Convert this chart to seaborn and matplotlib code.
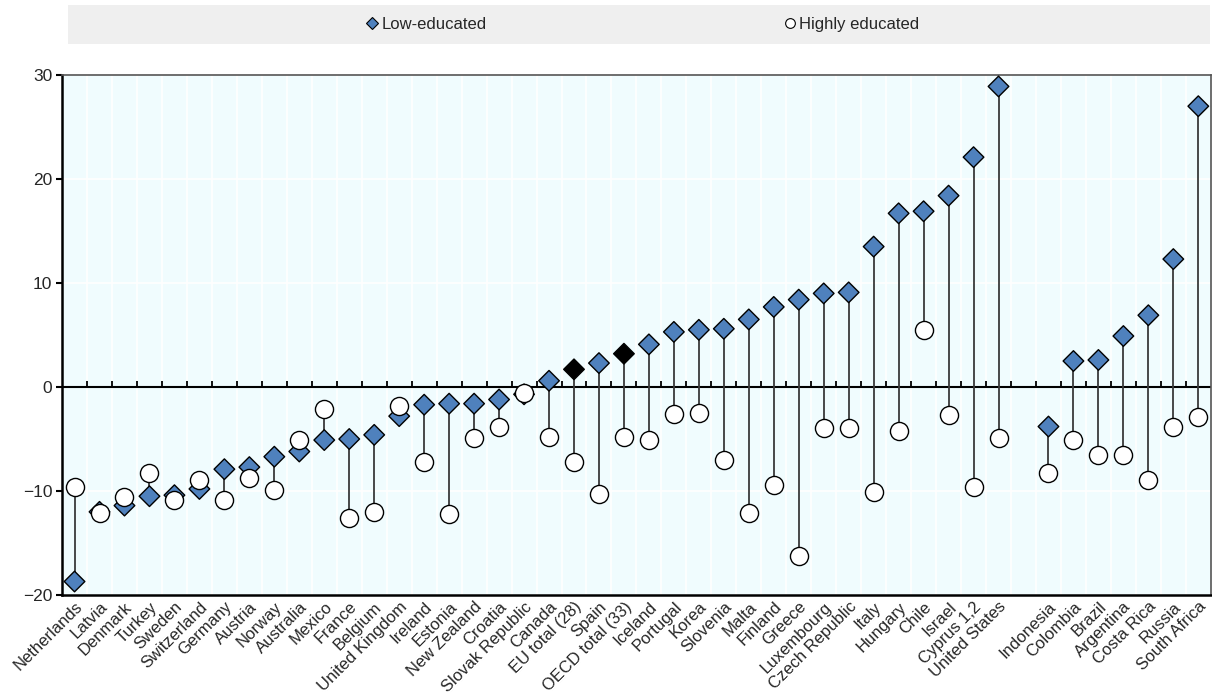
import numpy as np
import pandas as pd
import seaborn as sns
import matplotlib.pyplot as plt
from matplotlib.patches import Rectangle
from matplotlib.lines import Line2D

countries = ["Netherlands", "Latvia", "Denmark", "Turkey", "Sweden", "Switzerland", "Germany",
             "Austria", "Norway", "Australia", "Mexico", "France", "Belgium", "United Kingdom",
             "Ireland", "Estonia", "New Zealand", "Croatia", "Slovak Republic", "Canada",
             "EU total (28)", "Spain", "OECD total (33)", "Iceland", "Portugal", "Korea",
             "Slovenia", "Malta", "Finland", "Greece", "Luxembourg", "Czech Republic", "Italy",
             "Hungary", "Chile", "Israel", "Cyprus 1,2", "United States", "",
             "Indonesia", "Colombia", "Brazil", "Argentina", "Costa Rica", "Russia", "South Africa"]
low_educated = [-18.7, -12.0, -11.4, -10.5, -10.4, -9.8, -7.9,
                -7.7, -6.7, -6.2, -5.1, -5.0, -4.6, -2.8,
                -1.7, -1.6, -1.6, -1.2, -0.7, 0.6,
                1.7, 2.3, 3.2, 4.1, 5.3, 5.5,
                5.6, 6.5, 7.7, 8.4, 9.0, 9.1, 13.5,
                16.7, 16.9, 18.4, 22.1, 28.9, np.nan,
                -3.8, 2.5, 2.6, 4.9, 6.9, 12.3, 27.0]
highly_educated = [-9.6, -12.1, -10.6, -8.3, -10.9, -8.9, -10.9,
                   -8.7, -9.9, -5.1, -2.1, -12.6, -12.0, -1.8,
                   -7.2, -12.2, -4.9, -3.8, -0.6, -4.8,
                   -7.2, -10.3, -4.8, -5.1, -2.6, -2.5,
                   -7.0, -12.1, -9.4, -16.2, -3.95, -3.95, -10.1,
                   -4.2, 5.5, -2.7, -9.6, -4.9, np.nan,
                   -8.3, -5.1, -6.5, -6.5, -8.9, -3.8, -2.9]
aggregates = ["EU total (28)", "OECD total (33)"]
legend_labels = ["Low-educated", "Highly educated"]

df = pd.DataFrame({"country": countries, "low": low_educated, "high": highly_educated})
df["pos"] = np.arange(len(df))
df["kind"] = np.where(df["country"].isin(aggregates), "agg", "country")
valid = df.dropna()

sns.set_theme(style="white")
plt.rcParams["font.family"] = ["Liberation Sans", "DejaVu Sans"]

fig, ax = plt.subplots(figsize=(12.12, 6.97), dpi=100)
fig.subplots_adjust(left=0.0512, right=0.999, top=0.8924, bottom=0.1463)
ax.set_facecolor("#F0FCFE")

# white grid between categories and at each 10
ax.set_xticks(np.arange(-0.5, len(df), 1), minor=True)
ax.grid(which="minor", axis="x", color="white", lw=1.2)
ax.grid(which="major", axis="y", color="white", lw=1.2)
ax.set_axisbelow(True)

ax.axhline(0, color="black", lw=1.5, zorder=1.5)
ax.plot(np.arange(0.5, len(df) - 1, 1), np.zeros(len(df) - 1), ls="none",
        marker=2, ms=4, mew=1.3, color="black", zorder=1.6)

ax.vlines(valid["pos"], valid["low"], valid["high"], color="#3a3a3a", lw=1.3, zorder=2)
sns.scatterplot(data=valid, x="pos", y="low", hue="kind",
                palette={"country": "#4F81BD", "agg": "black"}, marker="D", s=110,
                edgecolor="black", linewidth=1, legend=False, zorder=3, ax=ax)
sns.scatterplot(data=valid, x="pos", y="high", color="white", marker="o", s=170,
                edgecolor="black", linewidth=1, legend=False, zorder=4, ax=ax)

ax.set_xlim(-0.5, len(df) - 0.5)
ax.set_ylim(-20, 30)
ax.set_yticks([-20, -10, 0, 10, 20, 30])
ax.set_xticks(df["pos"])
ax.set_xticklabels(countries, rotation=45, ha="right", rotation_mode="anchor", fontsize=12)
ax.tick_params(axis="x", which="both", length=0, pad=3)
ax.tick_params(axis="y", length=4, width=1.5, color="black", labelsize=12.5, pad=3, left=True)
ax.set_xlabel("")
ax.set_ylabel("")

for side in ["top", "right"]:
    ax.spines[side].set_color("#555555")
    ax.spines[side].set_linewidth(1.2)
for side in ["left", "bottom"]:
    ax.spines[side].set_color("black")
    ax.spines[side].set_linewidth(1.8)

fig.patches.append(Rectangle((0.0561, 0.9369), 0.9422, 0.056, transform=fig.transFigure,
                             facecolor="#EFEFEF", edgecolor="none", zorder=0))
handles = [Line2D([], [], ls="none", marker="D", markersize=6, markerfacecolor="#4F81BD",
                  markeredgecolor="black", markeredgewidth=0.8),
           Line2D([], [], ls="none", marker="o", markersize=7, markerfacecolor="white",
                  markeredgecolor="black", markeredgewidth=0.8)]
fig.legend(handles, legend_labels, loc="center", bbox_to_anchor=(0.530, 0.965), ncol=2,
           frameon=False, columnspacing=17.8, handletextpad=0.15, handlelength=0.8,
           fontsize=12)

fig.savefig("out.png", dpi=100)
